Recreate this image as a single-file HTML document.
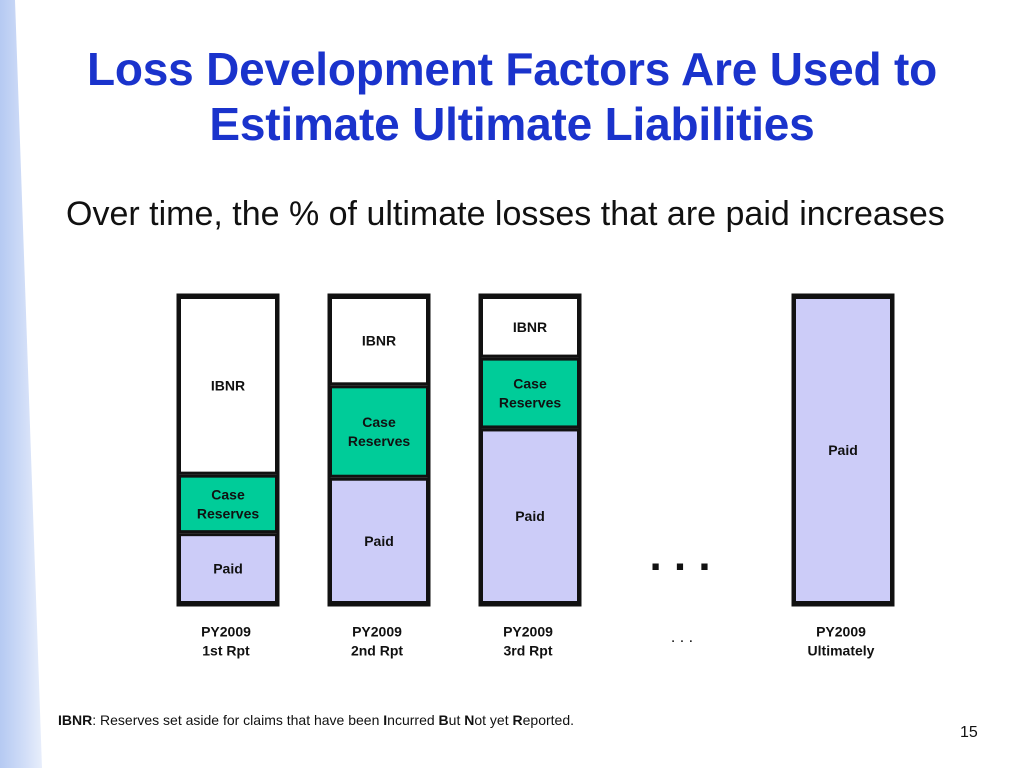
<!DOCTYPE html>
<html><head><meta charset="utf-8"><style>
body{margin:0;width:1024px;height:768px;overflow:hidden;background:#fff;font-family:"Liberation Sans",Arial,sans-serif;position:relative}
.t{position:absolute;margin:0}
</style></head><body>
<div style="position:absolute;left:0;top:0;width:60px;height:768px;background:linear-gradient(90deg,#a8c0f0 0%,#c8d7f6 40%,#fff 100%);clip-path:polygon(0 0,25% 0,70% 100%,0 100%);opacity:.85"></div>
<h1 class="t" style="left:0;width:1024px;top:42px;text-align:center;color:#1a33cc;font-size:46px;font-weight:bold;line-height:55px;letter-spacing:-0.2px">Loss Development Factors Are Used to<br>Estimate Ultimate Liabilities</h1>
<div class="t" style="left:66px;top:195px;font-size:34px;color:#111">Over time, the % of ultimate losses that are paid increases</div>
<svg id="chart" width="1024" height="768" style="position:absolute;left:0;top:0"></svg>
<div class="t" style="left:58px;top:712px;font-size:14px;color:#111"><b>IBNR</b>: Reserves set aside for claims that have been <b>I</b>ncurred <b>B</b>ut <b>N</b>ot yet <b>R</b>eported.</div>
<div class="t" style="left:960px;top:724px;font-size:16px;color:#111">15</div>
<script>
const categories=["PY2009\n1st Rpt","PY2009\n2nd Rpt","PY2009\n3rd Rpt","PY2009\nUltimately"];
const paid=[23,41,57,100];
const caseRes=[19,30,23,0];
const ibnr=[58,29,20,0];
const xLeft=[178,329,480,793];
const svg=document.getElementById('chart');
const NS='http://www.w3.org/2000/svg';
const top0=296,bot0=604,bw=100;
const y=v=>bot0-(v/100)*(bot0-top0);
function mk(tag,a){const e=document.createElementNS(NS,tag);for(const k in a)e.setAttribute(k,a[k]);svg.appendChild(e);return e;}
function label(x,yc,lines,name){
  const t=mk('text',{x:x,y:yc-(lines.length-1)*9.5+5,'text-anchor':'middle','font-size':'14','font-weight':'bold','font-family':'Liberation Sans,Arial,sans-serif',fill:'#111'});
  
  
  lines.forEach((l,i)=>{const s=document.createElementNS(NS,'tspan');s.setAttribute('x',x);s.setAttribute('dy',i?19:0);s.textContent=l;t.appendChild(s);});
}
categories.forEach((c,i)=>{
  const x=xLeft[i],cx=x+bw/2;
  const segs=[[paid[i],'#ccccf8','Paid','paid'],[caseRes[i],'#00cc99','Case\nReserves','case-reserves'],[ibnr[i],'#ffffff','IBNR','ibnr']];
  let acc=0;
  segs.forEach(s=>{
    if(s[0]<=0)return;
    const y1=y(acc+s[0]),y0=y(acc);acc+=s[0];
    const r=mk('rect',{x:x+1.5,y:y1+1.5,width:bw-3,height:y0-y1-3,fill:s[1],stroke:'#111',"stroke-width":3});
    
    
    label(cx,(y0+y1)/2,s[2].split('\n'),'segment-label-'+s[3]+'-'+(i+1));
  });
  const o=mk('rect',{x:x,y:top0-1,width:bw,height:bot0-top0+2,fill:'none',stroke:'#111',"stroke-width":3});
  
  
  label(cx-2,641,c.split('\n'),'category-label-'+(i+1));
});
const d=mk('text',{x:680,y:570,'text-anchor':'middle','font-size':'44','font-weight':'bold',fill:'#111'});


d.textContent='. . .';
const d2=mk('text',{x:682,y:642,'text-anchor':'middle','font-size':'16',fill:'#111'});


d2.textContent='. . .';
</script>
</body></html>
